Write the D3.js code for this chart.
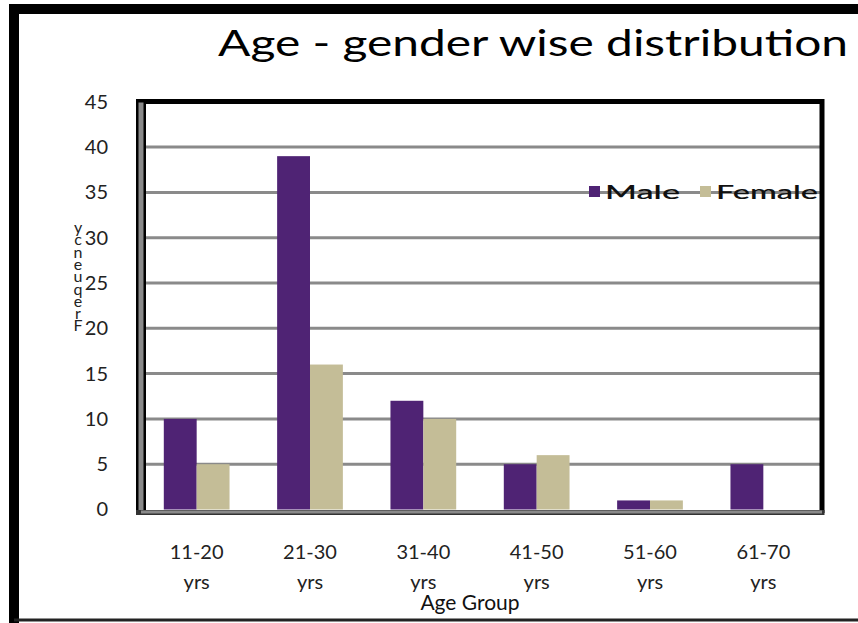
<!DOCTYPE html>
<html>
<head>
<meta charset="utf-8">
<script src="https://cdn.jsdelivr.net/npm/d3@7"></script>
<style>
  html, body { margin: 0; padding: 0; background: #fff; }
  svg { display: block; }
</style>
</head>
<body>
<svg id="chart" width="858" height="623"></svg>
<script>
const categories = ["11-20 yrs", "21-30 yrs", "31-40 yrs", "41-50 yrs", "51-60 yrs", "61-70 yrs"];
const seriesNames = ["Male", "Female"];
const maleValues = [10, 39, 12, 5, 1, 5];
const femaleValues = [5, 16, 10, 6, 1, 0];
const yTicks = [0, 5, 10, 15, 20, 25, 30, 35, 40, 45];
const colors = ["#4F2374", "#C4BD97"];
const titleText = "Age - gender wise distribution";
const xTitle = "Age Group";
const yTitle = "Frequency";

const svg = d3.select("#chart");
const FONT = "Lato, 'Open Sans', sans-serif";

// outer chart border
svg.append("path")
  .attr("d", "M14,623 L14,9 L858,9")
  .attr("fill", "none").attr("stroke", "#000").attr("stroke-width", 10);
svg.append("line").attr("x1", 14).attr("x2", 858).attr("y1", 620).attr("y2", 620)
  .attr("stroke", "#222").attr("stroke-width", 3);

const plot = { left: 141, right: 822, top: 101.5, bottom: 511 };

const x0 = d3.scaleBand().domain(categories).range([140, 820]).paddingInner(0.42).paddingOuter(0.21);
const x1 = d3.scaleBand().domain(seriesNames).range([0, x0.bandwidth()]);
const y = d3.scaleLinear().domain([0, 45]).range([509.5, 101.8]);

// gridlines
svg.append("g").selectAll("line").data(yTicks.filter(t => t > 0 && t < 45)).join("line")
  .attr("x1", plot.left).attr("x2", plot.right)
  .attr("y1", d => y(d)).attr("y2", d => y(d))
  .attr("stroke", "#8a8a8a").attr("stroke-width", 3);

// bars
const data = categories.map((c, i) => ({ cat: c, vals: [maleValues[i], femaleValues[i]] }));
const groups = svg.append("g").selectAll("g").data(data).join("g")
  .attr("transform", d => `translate(${x0(d.cat)},0)`);
groups.selectAll("rect").data(d => d.vals.map((v, j) => ({ v, s: seriesNames[j], j })))
  .join("rect")
  .attr("x", d => x1(d.s)).attr("width", x1.bandwidth())
  .attr("y", d => y(d.v)).attr("height", d => y(0) - y(d.v))
  .attr("fill", d => colors[d.j]);

// plot frame
svg.append("path")
  .attr("d", `M${plot.left},${plot.top} L${plot.right},${plot.top} L${plot.right},${plot.bottom + 2}`)
  .attr("fill", "none").attr("stroke", "#000").attr("stroke-width", 5);
svg.append("line").attr("x1", plot.left).attr("x2", plot.left).attr("y1", plot.top - 2.5).attr("y2", plot.bottom + 3)
  .attr("stroke", "#000").attr("stroke-width", 10);
svg.append("line").attr("x1", plot.left).attr("x2", plot.left).attr("y1", plot.top + 1).attr("y2", plot.bottom + 1)
  .attr("stroke", "#8a8a8a").attr("stroke-width", 5);
svg.append("line").attr("x1", plot.left - 5).attr("x2", plot.right + 2.5).attr("y1", plot.bottom + 1.5).attr("y2", plot.bottom + 1.5)
  .attr("stroke", "#333").attr("stroke-width", 5);
svg.append("line").attr("x1", plot.left).attr("x2", plot.right).attr("y1", plot.bottom + 1).attr("y2", plot.bottom + 1)
  .attr("stroke", "#8a8a8a").attr("stroke-width", 3);

// y axis tick labels
const yAxis = d3.axisLeft(y).tickValues(yTicks).tickSize(0).tickPadding(0);
const yg = svg.append("g").attr("transform", "translate(108,0)").call(yAxis);
yg.select(".domain").remove();
yg.selectAll("text").attr("font-family", FONT).attr("font-size", 20).attr("fill", "#222");

// x axis labels (two lines)
const xAxis = d3.axisBottom(x0).tickSize(0).tickFormat(() => "");
const xg = svg.append("g").attr("transform", `translate(0,${plot.bottom})`).call(xAxis);
xg.select(".domain").remove();
xg.selectAll(".tick").each(function(d) {
  const parts = d.split(" ");
  const t = d3.select(this);
  t.append("text").attr("y", 48).attr("text-anchor", "middle")
    .attr("font-family", FONT).attr("font-size", 20).attr("fill", "#222").text(parts[0]);
  t.append("text").attr("y", 78).attr("text-anchor", "middle")
    .attr("font-family", FONT).attr("font-size", 20).attr("fill", "#222").text(parts[1]);
});

// axis titles
svg.append("text").attr("x", 470).attr("y", 610).attr("text-anchor", "middle")
  .attr("font-family", FONT).attr("font-size", 21).attr("fill", "#111").text(xTitle);

// y title: letters stacked upright, reading bottom-to-top (single text element)
const yt = svg.append("text").attr("text-anchor", "middle")
  .attr("font-family", FONT).attr("font-size", 16).attr("fill", "#222");
yTitle.split("").reverse().forEach((ch, i) => {
  yt.append("tspan").attr("x", 78).attr("y", 233 + i * 12.3).text(ch);
});

// title
svg.append("text").attr("x", 218).attr("y", 56)
  .attr("font-family", FONT).attr("font-size", 36).attr("fill", "#000")
  .attr("textLength", 630).attr("lengthAdjust", "spacingAndGlyphs").text(titleText);

// legend
const legendPos = [{ sx: 589, tx: 605, tl: 75 }, { sx: 700, tx: 716, tl: 102 }];
const lg = svg.append("g");
seriesNames.forEach((s, i) => {
  lg.append("rect").attr("x", legendPos[i].sx).attr("y", 186).attr("width", 11).attr("height", 11).attr("fill", colors[i]);
  lg.append("text").attr("x", legendPos[i].tx).attr("y", 199)
    .attr("font-family", FONT).attr("font-size", 20).attr("font-weight", 600).attr("fill", "#111")
    .attr("textLength", legendPos[i].tl).attr("lengthAdjust", "spacingAndGlyphs").text(s);
});
</script>
</body>
</html>
